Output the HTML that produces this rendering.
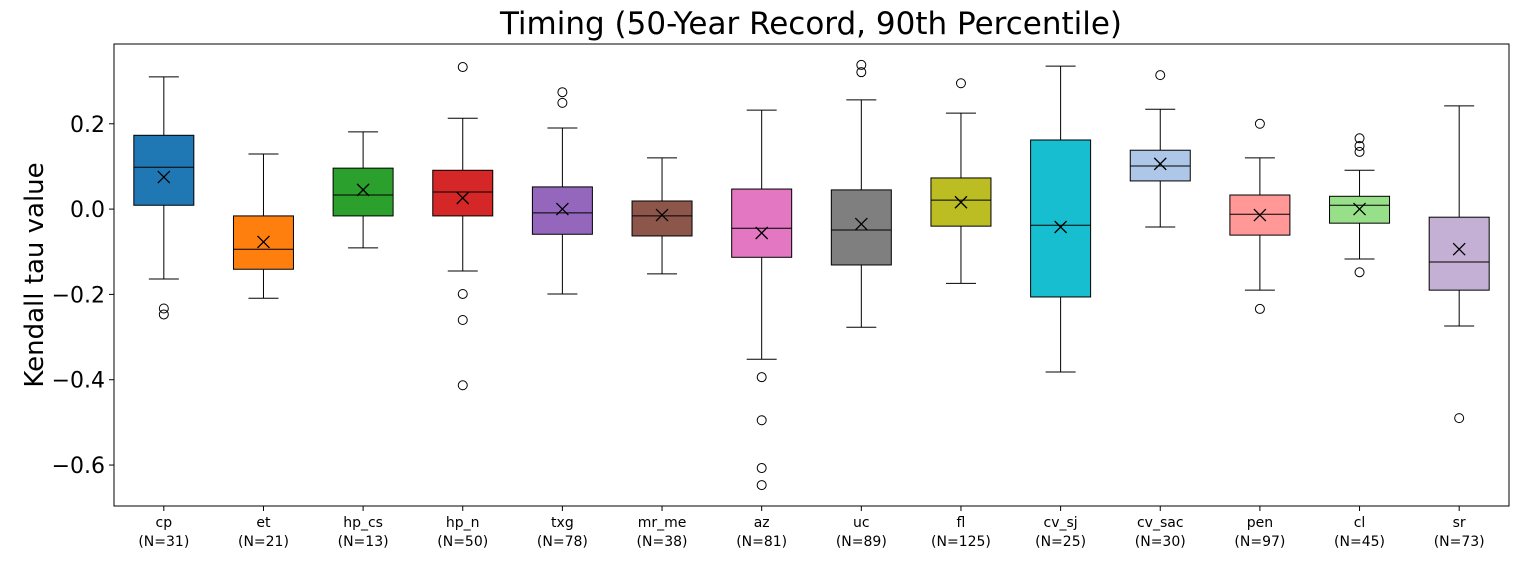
<!DOCTYPE html>
<html><head><meta charset="utf-8"><style>
body{margin:0;background:#fff;font-family:"Liberation Sans","DejaVu Sans",sans-serif}
</style></head><body>
<svg id="chart" width="1519" height="559" xmlns="http://www.w3.org/2000/svg">
<text x="811" y="34" font-size="31" text-anchor="middle" font-family="DejaVu Sans,Liberation Sans,sans-serif">Timing (50-Year Record, 90th Percentile)</text>
<text transform="translate(43,275) rotate(-90)" font-size="26" text-anchor="middle" font-family="DejaVu Sans,Liberation Sans,sans-serif">Kendall tau value</text>
<g id="plot"></g>
</svg>
<script>
const categories=["cp","et","hp_cs","hp_n","txg","mr_me","az","uc","fl","cv_sj","cv_sac","pen","cl","sr"];
const counts=[31,21,13,50,78,38,81,89,125,25,30,97,45,73];
const whiskerHigh=[0.31,0.129,0.181,0.213,0.19,0.12,0.232,0.256,0.225,0.335,0.234,0.12,0.091,0.242];
const q3=[0.173,-0.016,0.096,0.091,0.052,0.019,0.047,0.045,0.073,0.162,0.138,0.033,0.03,-0.019];
const medians=[0.098,-0.094,0.033,0.04,-0.009,-0.016,-0.045,-0.049,0.021,-0.038,0.101,-0.012,0.009,-0.124];
const q1=[0.009,-0.141,-0.016,-0.016,-0.059,-0.063,-0.113,-0.131,-0.04,-0.206,0.066,-0.061,-0.033,-0.19];
const whiskerLow=[-0.164,-0.209,-0.091,-0.145,-0.199,-0.152,-0.352,-0.277,-0.174,-0.382,-0.042,-0.19,-0.117,-0.274];
const means=[0.075,-0.077,0.045,0.026,0,-0.014,-0.056,-0.035,0.016,-0.042,0.106,-0.014,0,-0.094];
const outliers=[[-0.233,-0.247],[],[],[0.333,-0.199,-0.26,-0.413],[0.274,0.249],[],[-0.394,-0.495,-0.607,-0.647],[0.338,0.321],[0.295],[],[0.314],[0.2,-0.234],[0.166,0.148,0.134,-0.148],[-0.49]];
const yTicks=[0.2,0.0,-0.2,-0.4,-0.6];
const colors=["#1f77b4","#ff7f0e","#2ca02c","#d62728","#9467bd","#8c564b","#e377c2","#7f7f7f","#bcbd22","#17becf","#aec7e8","#ff9896","#98df8a","#c5b0d5"];
const L=114,R=1509,T=44,B=506,yMax=0.387,yMin=-0.696;
const y=v=>T+(yMax-v)/(yMax-yMin)*(B-T);
const step=(R-L)/categories.length;
const x=i=>L+step*(i+0.5);
const NS="http://www.w3.org/2000/svg";
const g=document.getElementById('plot');
function mk(t,a,p){const e=document.createElementNS(NS,t);for(const k in a)e.setAttribute(k,a[k]);(p||g).appendChild(e);return e;}
const frame=mk('rect',{x:L,y:T,width:R-L,height:B-T,fill:'none',stroke:'#000','stroke-width':1});


yTicks.forEach(v=>{
  const tk=mk('line',{x1:L-5,x2:L,y1:y(v),y2:y(v),stroke:'#000'});
  
  
  const t=mk('text',{x:L-9,y:y(v)+8,'font-size':22,'text-anchor':'end','font-family':'DejaVu Sans,Liberation Sans,sans-serif'});
  t.textContent=(v<0?'\u2212':'')+Math.abs(v).toFixed(1);
  
  
});
const hw=30;
categories.forEach((c,i)=>{
  const cx=x(i);
  const grp=mk('g',{});
  
  
  mk('line',{x1:cx,x2:cx,y1:y(whiskerHigh[i]),y2:y(q3[i]),stroke:'#000'},grp);
  mk('line',{x1:cx,x2:cx,y1:y(q1[i]),y2:y(whiskerLow[i]),stroke:'#000'},grp);
  mk('line',{x1:cx-15,x2:cx+15,y1:y(whiskerHigh[i]),y2:y(whiskerHigh[i]),stroke:'#000'},grp);
  mk('line',{x1:cx-15,x2:cx+15,y1:y(whiskerLow[i]),y2:y(whiskerLow[i]),stroke:'#000'},grp);
  mk('rect',{x:cx-hw,y:y(q3[i]),width:2*hw,height:y(q1[i])-y(q3[i]),fill:colors[i],stroke:'#000'},grp);
  mk('line',{x1:cx-hw,x2:cx+hw,y1:y(medians[i]),y2:y(medians[i]),stroke:'#000'},grp);
  const my=y(means[i]);
  mk('path',{d:`M${cx-6} ${my-6}L${cx+6} ${my+6}M${cx-6} ${my+6}L${cx+6} ${my-6}`,stroke:'#000','stroke-width':1.3},grp);
  outliers[i].forEach(o=>mk('circle',{cx:cx,cy:y(o),r:4.5,fill:'none',stroke:'#000'},grp));
  const tk=mk('line',{x1:cx,x2:cx,y1:B,y2:B+5,stroke:'#000'});
  
  
  const t=mk('text',{x:cx,y:527,'font-size':14,'text-anchor':'middle','font-family':'DejaVu Sans,Liberation Sans,sans-serif'});
  t.textContent=c;
  
  
  const t2=mk('text',{x:cx,y:546,'font-size':14,'text-anchor':'middle','font-family':'DejaVu Sans,Liberation Sans,sans-serif'});
  t2.textContent='(N='+counts[i]+')';
  
  
});
</script>
</body></html>
